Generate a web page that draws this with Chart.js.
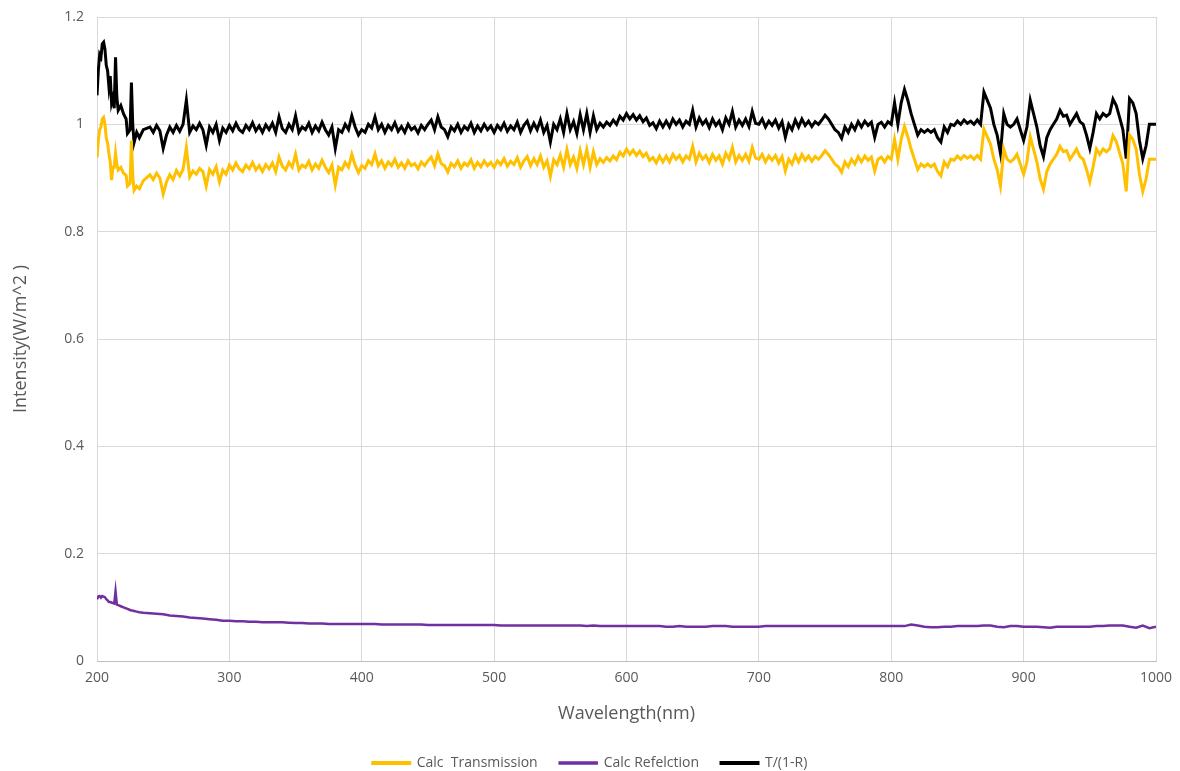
<!DOCTYPE html>
<html>
<head>
<meta charset="utf-8">
<script src="https://cdn.jsdelivr.net/npm/chart.js@4"></script>
<style>
  html, body { margin: 0; padding: 0; background: #fff; }
  #wrap { width: 1180px; height: 771px; }
</style>
</head>
<body>
<div id="wrap"><canvas id="grafico" width="1180" height="771"></canvas></div>
<script>
// longitudes de onda (nm) de la transmision y de T/(1-R)
const wlTrans = [
  200, 201, 202, 203, 204, 205, 206, 207, 208, 209,
  210, 211, 212, 213, 214, 215, 216, 218, 220, 222,
  223, 225, 226, 227, 228, 230, 232, 235,
  240, 242.5, 245, 247.5, 250, 252.5, 255, 257.5,
  260, 262.5, 265, 267.5, 270, 272.5, 275, 277.5,
  280, 282.5, 285, 287.5, 290, 292.5, 295, 297.5,
  300, 302.5, 305, 307.5, 310, 312.5, 315, 317.5,
  320, 322.5, 325, 327.5, 330, 332.5, 335, 337.5,
  340, 342.5, 345, 347.5, 350, 352.5, 355, 357.5,
  360, 362.5, 365, 367.5, 370, 372.5, 375, 377.5,
  380, 382.5, 385, 387.5, 390, 392.5, 395, 397.5,
  400, 402.5, 405, 407.5, 410, 412.5, 415, 417.5,
  420, 422.5, 425, 427.5, 430, 432.5, 435, 437.5,
  440, 442.5, 445, 447.5, 450, 452.5, 455, 457.5,
  460, 462.5, 465, 467.5, 470, 472.5, 475, 477.5,
  480, 482.5, 485, 487.5, 490, 492.5, 495, 497.5,
  500, 502.5, 505, 507.5, 510, 512.5, 515, 517.5,
  520, 522.5, 525, 527.5, 530, 532.5, 535, 537.5,
  540, 542.5, 545, 547.5, 550, 552.5, 555, 557.5,
  560, 562.5, 565, 567.5, 570, 572.5, 575, 577.5,
  580, 582.5, 585, 587.5, 590, 592.5, 595, 597.5,
  600, 602.5, 605, 607.5, 610, 612.5, 615, 617.5,
  620, 622.5, 625, 627.5, 630, 632.5, 635, 637.5,
  640, 642.5, 645, 647.5, 650, 652.5, 655, 657.5,
  660, 662.5, 665, 667.5, 670, 672.5, 675, 677.5,
  680, 682.5, 685, 687.5, 690, 692.5, 695, 697.5,
  700, 702.5, 705, 707.5, 710, 712.5, 715, 717.5,
  720, 722.5, 725, 727.5, 730, 732.5, 735, 737.5,
  740, 742.5, 745, 747.5, 750, 752.5, 755, 757.5,
  760, 762.5, 765, 767.5, 770, 772.5, 775, 777.5,
  780, 782.5, 785, 787.5, 790, 792.5, 795, 797.5,
  800, 802.5, 805, 807.5, 810, 812.5, 815, 817.5,
  820, 822.5, 825, 827.5, 830, 832.5, 835, 837.5,
  840, 842.5, 845, 847.5, 850, 852.5, 855, 857.5,
  860, 862.5, 865, 867.5, 870, 872.5, 875, 877.5,
  880, 882.5, 885, 887.5, 890, 892.5, 895, 897.5,
  900, 902.5, 905, 907.5, 910, 912.5, 915, 917.5,
  920, 922.5, 925, 927.5, 930, 932.5, 935, 937.5,
  940, 942.5, 945, 947.5, 950, 952.5, 955, 957.5,
  960, 962.5, 965, 967.5, 970, 972.5, 975, 977.5,
  980, 982.5, 985, 987.5, 990, 992.5, 995, 997.5,
  1000
]

// Calc  Transmission
const transmission = [
  0.938, 0.970, 0.990, 0.995, 1.010, 1.013, 1.000, 0.975, 0.965, 0.945,
  0.930, 0.896, 0.920, 0.920, 0.946, 0.925, 0.915, 0.920, 0.909, 0.905,
  0.885, 0.890, 0.970, 0.905, 0.877, 0.885, 0.880, 0.895,
  0.906, 0.897, 0.909, 0.900, 0.870, 0.893, 0.906, 0.897,
  0.914, 0.904, 0.916, 0.957, 0.902, 0.913, 0.907, 0.918,
  0.912, 0.885, 0.916, 0.907, 0.921, 0.893, 0.915, 0.907,
  0.924, 0.915, 0.928, 0.917, 0.912, 0.924, 0.917, 0.929,
  0.915, 0.923, 0.912, 0.925, 0.917, 0.928, 0.912, 0.939,
  0.922, 0.915, 0.929, 0.920, 0.944, 0.915, 0.924, 0.920,
  0.931, 0.915, 0.926, 0.918, 0.933, 0.920, 0.910, 0.924,
  0.887, 0.920, 0.915, 0.929, 0.920, 0.944, 0.924, 0.910,
  0.923, 0.918, 0.932, 0.925, 0.945, 0.923, 0.932, 0.918,
  0.930, 0.923, 0.935, 0.920, 0.928, 0.918, 0.932, 0.923,
  0.927, 0.917, 0.930, 0.923, 0.932, 0.939, 0.923, 0.945,
  0.927, 0.923, 0.911, 0.927, 0.921, 0.932, 0.918, 0.928,
  0.923, 0.934, 0.918, 0.929, 0.921, 0.932, 0.923, 0.929,
  0.920, 0.932, 0.925, 0.936, 0.922, 0.931, 0.925, 0.938,
  0.920, 0.932, 0.940, 0.923, 0.936, 0.925, 0.941, 0.920,
  0.932, 0.903, 0.934, 0.925, 0.943, 0.920, 0.953, 0.925,
  0.939, 0.918, 0.951, 0.925, 0.953, 0.920, 0.949, 0.925,
  0.936, 0.929, 0.938, 0.932, 0.941, 0.934, 0.948, 0.941,
  0.954, 0.944, 0.952, 0.942, 0.950, 0.940, 0.946, 0.933,
  0.938, 0.928, 0.941, 0.930, 0.941, 0.930, 0.944, 0.935,
  0.942, 0.930, 0.941, 0.935, 0.959, 0.930, 0.946, 0.935,
  0.942, 0.929, 0.944, 0.933, 0.941, 0.926, 0.946, 0.935,
  0.957, 0.930, 0.942, 0.933, 0.944, 0.931, 0.957, 0.937,
  0.935, 0.944, 0.930, 0.941, 0.933, 0.942, 0.928, 0.940,
  0.913, 0.935, 0.926, 0.942, 0.930, 0.944, 0.933, 0.941,
  0.931, 0.940, 0.935, 0.942, 0.951, 0.944, 0.935, 0.926,
  0.921, 0.911, 0.930, 0.921, 0.935, 0.926, 0.940, 0.930,
  0.941, 0.933, 0.939, 0.913, 0.935, 0.939, 0.930, 0.940,
  0.935, 0.972, 0.935, 0.972, 0.996, 0.977, 0.954, 0.935,
  0.916, 0.926, 0.921, 0.926, 0.921, 0.926, 0.912, 0.904,
  0.930, 0.921, 0.935, 0.933, 0.941, 0.935, 0.942, 0.937,
  0.941, 0.935, 0.942, 0.935, 0.991, 0.977, 0.963, 0.935,
  0.916, 0.885, 0.954, 0.935, 0.930, 0.935, 0.944, 0.926,
  0.907, 0.930, 0.977, 0.954, 0.930, 0.898, 0.879, 0.912,
  0.926, 0.935, 0.944, 0.959, 0.949, 0.951, 0.935, 0.944,
  0.954, 0.940, 0.935, 0.916, 0.893, 0.921, 0.954, 0.944,
  0.954, 0.949, 0.954, 0.979, 0.968, 0.947, 0.926, 0.875,
  0.980, 0.972, 0.954, 0.907, 0.875, 0.898, 0.935, 0.935,
  0.935
]

// T/(1-R)
const ratio = [
  1.054, 1.100, 1.130, 1.125, 1.150, 1.153, 1.140, 1.110, 1.100, 1.070,
  1.090, 1.040, 1.050, 1.030, 1.125, 1.050, 1.026, 1.035, 1.020, 1.010,
  0.983, 0.990, 1.078, 1.000, 0.966, 0.985, 0.975, 0.990,
  0.995, 0.985, 0.998, 0.988, 0.955, 0.980, 0.995, 0.985,
  0.998, 0.987, 1.000, 1.045, 0.985, 0.997, 0.990, 1.002,
  0.990, 0.961, 0.995, 0.985, 1.000, 0.970, 0.993, 0.985,
  0.998, 0.988, 1.002, 0.990, 0.985, 0.998, 0.990, 1.003,
  0.988, 0.997, 0.985, 0.999, 0.990, 1.002, 0.985, 1.014,
  0.992, 0.985, 1.000, 0.990, 1.016, 0.985, 0.995, 0.990,
  1.002, 0.985, 0.997, 0.988, 1.004, 0.990, 0.980, 0.995,
  0.955, 0.990, 0.985, 1.000, 0.990, 1.016, 0.995, 0.980,
  0.990, 0.985, 1.000, 0.993, 1.014, 0.990, 1.000, 0.985,
  0.998, 0.990, 1.003, 0.987, 0.996, 0.985, 1.000, 0.990,
  0.995, 0.984, 0.998, 0.990, 1.000, 1.008, 0.990, 1.014,
  0.995, 0.990, 0.977, 0.995, 0.988, 1.000, 0.985, 0.996,
  0.990, 1.002, 0.985, 0.997, 0.988, 1.000, 0.990, 0.997,
  0.985, 0.998, 0.990, 1.002, 0.987, 0.997, 0.990, 1.004,
  0.985, 0.998, 1.006, 0.988, 1.002, 0.990, 1.008, 0.985,
  0.998, 0.967, 1.000, 0.990, 1.010, 0.985, 1.020, 0.990,
  1.005, 0.983, 1.018, 0.990, 1.020, 0.985, 1.016, 0.990,
  1.002, 0.995, 1.004, 0.998, 1.008, 1.000, 1.015, 1.008,
  1.020, 1.010, 1.018, 1.008, 1.016, 1.005, 1.012, 0.998,
  1.003, 0.992, 1.006, 0.995, 1.006, 0.995, 1.010, 1.000,
  1.008, 0.995, 1.006, 1.000, 1.026, 0.995, 1.012, 1.000,
  1.008, 0.994, 1.010, 0.998, 1.006, 0.990, 1.012, 1.000,
  1.024, 0.995, 1.008, 0.998, 1.010, 0.996, 1.024, 1.002,
  1.000, 1.010, 0.995, 1.006, 0.998, 1.008, 0.993, 1.005,
  0.976, 1.000, 0.990, 1.008, 0.995, 1.010, 0.998, 1.006,
  0.996, 1.005, 1.000, 1.008, 1.017, 1.010, 1.000, 0.990,
  0.985, 0.974, 0.995, 0.985, 1.000, 0.990, 1.005, 0.995,
  1.006, 0.998, 1.004, 0.976, 1.000, 1.004, 0.995, 1.005,
  1.000, 1.040, 1.000, 1.040, 1.065, 1.045, 1.020, 1.000,
  0.980, 0.990, 0.985, 0.990, 0.985, 0.990, 0.975, 0.967,
  0.995, 0.985, 1.000, 0.998, 1.006, 1.000, 1.008, 1.002,
  1.006, 1.000, 1.008, 1.000, 1.060, 1.045, 1.030, 1.000,
  0.980, 0.946, 1.020, 1.000, 0.995, 1.000, 1.010, 0.990,
  0.970, 0.995, 1.045, 1.020, 0.995, 0.960, 0.940, 0.975,
  0.990, 1.000, 1.010, 1.026, 1.015, 1.017, 1.000, 1.010,
  1.020, 1.005, 1.000, 0.980, 0.955, 0.985, 1.020, 1.010,
  1.020, 1.015, 1.020, 1.047, 1.035, 1.013, 0.990, 0.936,
  1.048, 1.040, 1.020, 0.970, 0.936, 0.960, 1.000, 1.000,
  1.000
]

// longitudes de onda (nm) de la reflexion
const wlRefl = [
  200, 201, 202, 203, 204, 205, 206, 207, 208, 209,
  210, 211, 212, 213, 214, 215, 216, 218, 220, 222,
  223, 225, 226, 227, 228, 230, 232, 235,
  240, 245, 250, 255, 260, 265, 270, 275, 280, 285,
  290, 295, 300, 305, 310, 315, 320, 325, 330, 335,
  340, 345, 350, 355, 360, 365, 370, 375, 380, 385,
  390, 395, 400, 405, 410, 415, 420, 425, 430, 435,
  440, 445, 450, 455, 460, 465, 470, 475, 480, 485,
  490, 495, 500, 505, 510, 515, 520, 525, 530, 535,
  540, 545, 550, 555, 560, 565, 570, 575, 580, 585,
  590, 595, 600, 605, 610, 615, 620, 625, 630, 635,
  640, 645, 650, 655, 660, 665, 670, 675, 680, 685,
  690, 695, 700, 705, 710, 715, 720, 725, 730, 735,
  740, 745, 750, 755, 760, 765, 770, 775, 780, 785,
  790, 795, 800, 805, 810, 815, 820, 825, 830, 835,
  840, 845, 850, 855, 860, 865, 870, 875, 880, 885,
  890, 895, 900, 905, 910, 915, 920, 925, 930, 935,
  940, 945, 950, 955, 960, 965, 970, 975, 980, 985,
  990, 995, 1000
]

// Calc Refelction
const reflection = [
  0.115, 0.120, 0.121, 0.118, 0.121, 0.120, 0.119, 0.115, 0.113, 0.110,
  0.110, 0.109, 0.108, 0.107, 0.130, 0.105, 0.104, 0.102, 0.100, 0.098,
  0.097, 0.095, 0.094, 0.094, 0.093, 0.092, 0.091, 0.090,
  0.089, 0.088, 0.087, 0.085, 0.084, 0.083, 0.081, 0.080, 0.079, 0.078,
  0.077, 0.075, 0.075, 0.074, 0.074, 0.073, 0.073, 0.072, 0.072, 0.072,
  0.072, 0.0715, 0.071, 0.071, 0.070, 0.070, 0.070, 0.069, 0.069, 0.069,
  0.069, 0.069, 0.069, 0.069, 0.069, 0.068, 0.068, 0.068, 0.068, 0.068,
  0.068, 0.068, 0.067, 0.067, 0.067, 0.067, 0.067, 0.067, 0.067, 0.067,
  0.067, 0.067, 0.067, 0.066, 0.066, 0.066, 0.066, 0.066, 0.066, 0.066,
  0.066, 0.066, 0.066, 0.066, 0.066, 0.066, 0.065, 0.066, 0.065, 0.065,
  0.065, 0.065, 0.065, 0.065, 0.065, 0.065, 0.065, 0.065, 0.064, 0.064,
  0.065, 0.064, 0.064, 0.064, 0.064, 0.065, 0.065, 0.065, 0.064, 0.064,
  0.064, 0.064, 0.064, 0.065, 0.065, 0.065, 0.065, 0.065, 0.065, 0.065,
  0.065, 0.065, 0.065, 0.065, 0.065, 0.065, 0.065, 0.065, 0.065, 0.065,
  0.065, 0.065, 0.065, 0.065, 0.065, 0.068, 0.066, 0.064, 0.063, 0.063,
  0.064, 0.064, 0.065, 0.065, 0.065, 0.065, 0.066, 0.066, 0.064, 0.063,
  0.065, 0.065, 0.064, 0.064, 0.064, 0.063, 0.062, 0.064, 0.064, 0.064,
  0.064, 0.064, 0.064, 0.065, 0.065, 0.066, 0.066, 0.066, 0.064, 0.062,
  0.066, 0.061, 0.064
]

const xTicks = [200, 300, 400, 500, 600, 700, 800, 900, 1000]
const yTicks = [0, 0.2, 0.4, 0.6, 0.8, 1, 1.2]

const fuente = '"Open Sans", "Noto Sans", sans-serif'
const gris = '#595959'

function puntos(xs, valores) { // pares x,y para la escala lineal
  return xs.map((w, i) => ({ x: w, y: valores[i] }))
}

new Chart(document.getElementById('grafico'), {
  type: 'line',
  data: {
    datasets: [
      { label: 'Calc  Transmission', data: puntos(wlTrans, transmission), borderColor: '#FFC000', backgroundColor: '#FFC000', borderWidth: 3 },
      { label: 'Calc Refelction', data: puntos(wlRefl, reflection), borderColor: '#7030A0', backgroundColor: '#7030A0', borderWidth: 2.5 },
      { label: 'T/(1-R)', data: puntos(wlTrans, ratio), borderColor: '#000000', backgroundColor: '#000000', borderWidth: 3 }
    ]
  },
  options: {
    responsive: false,
    animation: false,
    devicePixelRatio: 1,
    layout: { padding: { left: 0, right: 0, top: 17, bottom: -9 } },
    elements: { point: { radius: 0 }, line: { tension: 0, fill: false } },
    plugins: {
      tooltip: { enabled: false },
      legend: {
        position: 'bottom',
        labels: {
          font: { family: fuente, size: 14 },
          color: gris,
          boxWidth: 37,
          boxHeight: 1,
          padding: 22
        }
      }
    },
    scales: {
      x: {
        type: 'linear',
        min: 200,
        max: 1000,
        afterBuildTicks: (s) => { s.ticks = xTicks.map(v => ({ value: v })) },
        afterFit: (s) => { s.height = 73; s.paddingLeft = 0; s.paddingRight = 24 },
        grid: { color: '#d9d9d9', drawTicks: false },
        border: { color: '#bfbfbf' },
        ticks: { font: { family: fuente, size: 14 }, color: gris, padding: 9, callback: (v) => String(v) },
        title: { display: true, text: 'Wavelength(nm)', font: { family: fuente, size: 18 }, color: gris, padding: { top: 4, bottom: 9 } }
      },
      y: {
        min: 0,
        max: 1.2,
        afterBuildTicks: (s) => { s.ticks = yTicks.map(v => ({ value: v })) },
        afterFit: (s) => { s.width = 97; s.paddingTop = 0; s.paddingBottom = 0 },
        grid: { color: '#d9d9d9', drawTicks: false },
        border: { display: false },
        ticks: { font: { family: fuente, size: 14 }, color: gris, padding: 13, callback: (v) => String(+v.toFixed(1)) },
        title: { display: true, text: 'Intensity(W/m^2 )', font: { family: fuente, size: 18 }, color: gris, padding: { top: 10, bottom: 0 } }
      }
    }
  }
})
</script>
</body>
</html>
